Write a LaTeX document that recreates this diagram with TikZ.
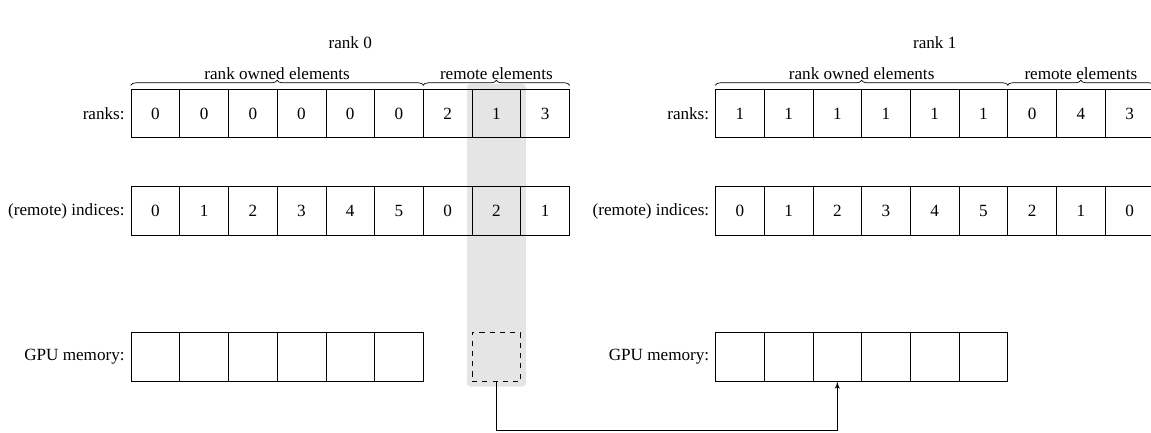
\documentclass[tikz,border=0pt]{standalone}
\usepackage{fontspec}
\setmainfont{Liberation Serif}
\usetikzlibrary{arrows,positioning,fit,backgrounds,decorations.pathreplacing}
\tikzset{
cell/.style = {draw, rectangle, minimum size=1cm, inner sep=0pt},
ghost/.style = {cell, dashed},
rowlabel/.style = {rectangle, align = right},
brc/.style = {decorate, decoration={brace, amplitude=3pt, raise=2pt}},
shade/.style = {fill=black!10, rounded corners=2pt, inner sep=0.1cm}
}

\begin{document}
\begin{tikzpicture}[auto, node distance=0pt,>=latex']
   \useasboundingbox (-2.69,-6.54) rectangle (20.94,2.33);
   % ranks and (remote) indices of rank 0 and rank 1
   \foreach \ra/\ia/\rb/\ib [count=\i] in {0/0/1/0, 0/1/1/1, 0/2/1/2, 0/3/1/3, 0/4/1/4,
                                            0/5/1/5, 2/0/0/2, 1/2/4/1, 3/1/3/0} {
     \node [cell] (rk0-\i) at (\i-0.5,0) {\ra};
     \node [cell] (ix0-\i) at (\i-0.5,-2) {\ia};
     \node [cell] (rk1-\i) at (\i+11.5,0) {\rb};
     \node [cell] (ix1-\i) at (\i+11.5,-2) {\ib};
   }
   \foreach \g/\ox in {0/0, 1/12} {
     \foreach \i in {1,...,6}
       \node [cell] (gm\g-\i) at (\ox+\i-0.5,-5) {};
     \node [rowlabel, left=of rk\g-1] (lrk\g) {ranks:};
     \node [rowlabel, left=of ix\g-1] (lix\g) {(remote) indices:};
     \node [rowlabel, left=of gm\g-1] (lgm\g) {GPU memory:};
     \node (title\g) at (\ox+4.5,1.45) {rank \g};
     \draw [brc] (rk\g-1.north west) -- (rk\g-6.north east)
       node [midway, above=5pt, inner sep=0pt] (own\g) {rank owned elements};
     \draw [brc] (rk\g-7.north west) -- (rk\g-9.north east)
       node [midway, above=5pt, inner sep=0pt] (rem\g) {remote elements};
   }
   \node [ghost] (ghost) at (7.5,-5) {};
   \begin{scope}[on background layer]
     \node [shade, fit=(rk0-8)(ghost)] (band) {};
   \end{scope}
   \draw [->] (ghost.south) -- ++(0,-1) -| (gm1-3.south);
\end{tikzpicture}
\end{document}
